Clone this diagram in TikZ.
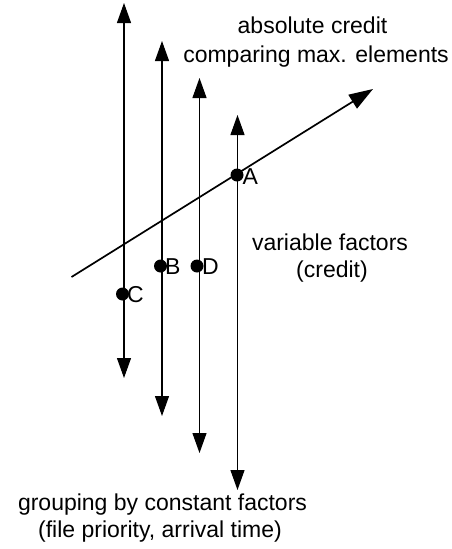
\documentclass[tikz,border=0pt]{standalone}
\usepackage{fontspec}
\setmainfont{Liberation Sans}
\usetikzlibrary{arrows.meta}
\begin{document}
\begin{tikzpicture}[x=1pt,y=-1pt,
  every node/.style={font=\fontsize{23}{27}\selectfont, inner sep=0pt},
  vline/.style={line width=1.1pt, {Triangle[width=14pt,length=20pt]}-{Triangle[width=14pt,length=20pt]}},
  diag/.style={line width=1.7pt, -{Triangle[width=16pt,length=24pt]}},
  dot/.style={circle, fill=black, inner sep=0pt, minimum size=13pt},
  lbl/.style={anchor=base west},
  txt/.style={anchor=base}]
\useasboundingbox (0,0) rectangle (451,549);
% vertical axes
\coordinate (t1) at (124,3);   \coordinate (b1) at (124,378);
\coordinate (t2) at (162,41);  \coordinate (b2) at (162,416);
\coordinate (t3) at (199.5,78);  \coordinate (b3) at (199.5,453);
\coordinate (t4) at (237.5,115); \coordinate (b4) at (237.5,490);
\draw[vline] (b1) -- (t1);
\draw[vline] (b2) -- (t2);
\draw[vline] (b3) -- (t3);
\draw[vline] (b4) -- (t4);
% diagonal
\coordinate (ds) at (71.5,277);
\coordinate (de) at (373,89);
\draw[diag] (ds) -- (de);
% dots
\node[dot] (A) at (237,175) {};
\node[dot] (B) at (160.5,266) {};
\node[dot] (C) at (122.5,294) {};
\node[dot] (D) at (197,266) {};
\node[lbl] (lA) at (242.5,184) {A};
\node[lbl] (lB) at (165,274) {B};
\node[lbl] (lC) at (127,302) {C};
\node[lbl] (lD) at (202,274) {D};
% texts
\node[txt] (t1a) at (312.5,33) {absolute credit};
\node[txt] (t1b) at (316,62) {comparing max. elements};
\node[txt] (t2a) at (330,250) {variable factors};
\node[txt] (t2b) at (332,277) {(credit)};
\node[txt] (t3a) at (162.5,510) {grouping by constant factors};
\node[txt] (t3b) at (160,537) {(file priority, arrival time)};
\end{tikzpicture}
\end{document}
